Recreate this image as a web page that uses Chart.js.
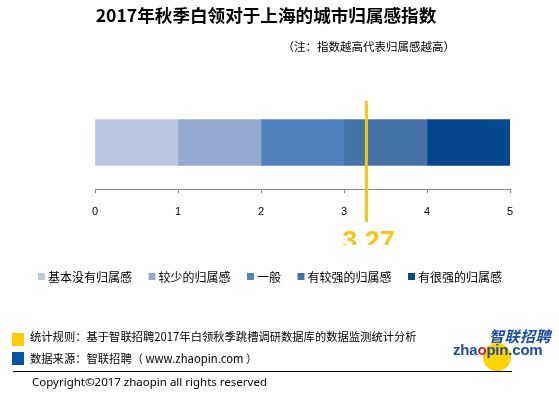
<!DOCTYPE html>
<html>
<head>
<meta charset="utf-8">
<script src="https://cdn.jsdelivr.net/npm/chart.js@4.4.1/dist/chart.umd.min.js"></script>
<style>
  body { margin: 0; background: #fff; }
  #wrap { position: relative; width: 559px; height: 394px; overflow: hidden;
          font-family: "Noto Sans CJK SC", "Noto Sans", sans-serif; color: #000; }
  #wrap canvas { position: absolute; left: 0; top: 0; }
  .t { position: absolute; white-space: nowrap; line-height: 1; }
  #title { left: 0; width: 532px; top: 6px; text-align: center; font-size: 17.6px; font-weight: bold; }
  #note { right: 104px; top: 41px; font-size: 11.5px; }
  #rule { left: 30px; top: 331px; font-size: 11.3px; }
  #src { left: 30px; top: 353px; font-size: 11.3px; }
  #copy { left: 32px; top: 376px; font-size: 11.5px; font-family: "Noto Sans", sans-serif; }
  .sq { position: absolute; left: 12px; width: 12px; height: 13px; }
  #hr { position: absolute; left: 13px; width: 499px; top: 371px; height: 1px; background: #000; }
  #ball { position: absolute; left: 483px; top: 343px; width: 28px; height: 28px; border-radius: 50%; background: #FFD200; }
  #logo1 { left: 489px; top: 328px; font-size: 15px; font-weight: bold; font-style: italic; color: #1E4E9C; letter-spacing: 0.5px; }
  #logo2 { left: 453px; top: 342px; font-size: 15px; font-weight: bold; color: #1E4E9C;
           font-family: "Liberation Sans", sans-serif; letter-spacing: -0.2px; }
  #logo2 span { color: #D4202A; }
</style>
</head>
<body>
<div id="wrap">
  <canvas id="chart" width="559" height="394"></canvas>
  <div class="t" id="title">2017年秋季白领对于上海的城市归属感指数</div>
  <div class="t" id="note">（注：指数越高代表归属感越高）</div>
  <div class="sq" style="top:333px;background:#FFCC00"></div>
  <div class="sq" style="top:352px;background:#0055A5"></div>
  <div class="t" id="rule">统计规则：基于智联招聘2017年白领秋季跳槽调研数据库的数据监测统计分析</div>
  <div class="t" id="src">数据来源：智联招聘（ www.zhaopin.com ）</div>
  <div id="ball"></div>
  <div class="t" id="logo1">智联招聘</div>
  <div class="t" id="logo2">zha<span>o</span>pin.com</div>
  <div id="hr"></div>
  <div class="t" id="copy">Copyright©2017 zhaopin all rights reserved</div>
</div>
<script>
// data
const categories = ['上海'];
const levelNames = ['基本没有归属感', '较少的归属感', '一般', '有较强的归属感', '有很强的归属感'];
const levelWidths = [1, 1, 1, 1, 1];
const levelColors = ['#BBC7E0', '#95A8D0', '#4F81BD', '#4573A7', '#05468F'];
const xTicks = [0, 1, 2, 3, 4, 5];
const indexValue = 3.27;

// yellow marker for the index value + hand-drawn legend
const markerPlugin = {
    id: 'marker',
    afterDatasetsDraw(chart) {
        const ctx = chart.ctx;
        const x = chart.scales.x.getPixelForValue(indexValue);
        ctx.save();
        ctx.strokeStyle = '#F5C518';
        ctx.lineWidth = 3;
        ctx.beginPath();
        ctx.moveTo(x, chart.chartArea.top + 5);
        ctx.lineTo(x, chart.chartArea.bottom + 33);
        ctx.stroke();

        // value label, cut off at the bottom like the original
        ctx.beginPath();
        ctx.rect(x - 40, 225, 80, 20);
        ctx.clip();
        ctx.fillStyle = '#F5C518';
        ctx.font = 'bold 27px "Liberation Sans", sans-serif';
        ctx.textAlign = 'center';
        ctx.textBaseline = 'alphabetic';
        ctx.fillText(indexValue.toFixed(2), x + 2, 250);
        ctx.restore();
    },
    afterDraw(chart) {
        const ctx = chart.ctx;
        ctx.save();
        ctx.font = '12px "Noto Sans CJK SC", sans-serif';
        ctx.textBaseline = 'middle';
        let x = 38;
        const y = 277;
        chart.data.datasets.forEach(ds => {
            ctx.fillStyle = ds.backgroundColor;
            ctx.fillRect(x, y - 4, 7, 7);
            ctx.fillStyle = '#000';
            ctx.fillText(ds.label, x + 10, y);
            x += 10 + ctx.measureText(ds.label).width + 16.5;
        });
        ctx.restore();
    }
};

const datasets = levelNames.map((name, i) => ({
    label: name,
    data: [levelWidths[i]],
    backgroundColor: levelColors[i],
    borderWidth: 0,
    barThickness: 46
}));

new Chart(document.getElementById('chart'), {
    type: 'bar',
    data: { labels: categories, datasets: datasets },
    options: {
        indexAxis: 'y',
        responsive: false,
        animation: false,
        layout: { padding: { left: 95, right: 49, top: 96, bottom: 175 } },
        plugins: { legend: { display: false }, tooltip: { enabled: false } },
        scales: {
            x: {
                stacked: true,
                min: xTicks[0],
                max: xTicks[xTicks.length - 1],
                afterBuildTicks: s => { s.ticks = xTicks.map(v => ({ value: v })); },
                afterFit: s => { s.height = 30; },
                ticks: { color: '#000', font: { size: 11, family: '"Liberation Sans", sans-serif' }, padding: 12 },
                grid: { drawOnChartArea: false, tickLength: 4, color: '#888' },
                border: { color: '#888' }
            },
            y: { stacked: true, display: false }
        }
    },
    plugins: [markerPlugin]
});
</script>
</body>
</html>
